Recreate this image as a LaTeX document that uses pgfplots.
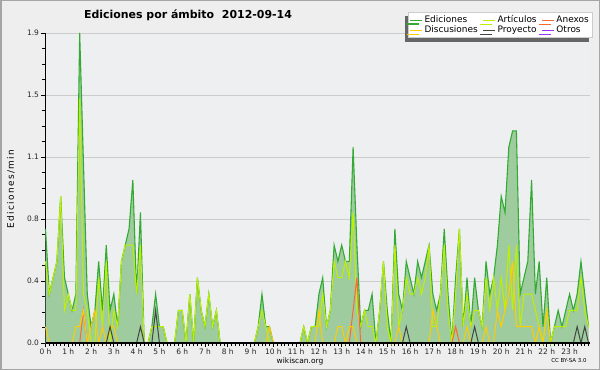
\documentclass[border=0pt]{standalone}
\usepackage{pgfplots}
\usepackage{pgfplotstable}
\pgfplotsset{compat=1.18}
\usepackage{fontspec}
\setmainfont{DejaVu Sans}
\usetikzlibrary{shadows}
\definecolor{bgcol}{RGB}{238,238,238}
\definecolor{plotbg}{RGB}{238,239,241}
\definecolor{bordercol}{RGB}{165,165,165}
\definecolor{fillgreen}{RGB}{158,204,158}
\definecolor{edgreen}{RGB}{51,170,51}
\definecolor{artgreen}{RGB}{190,240,0}
\definecolor{discol}{RGB}{255,204,0}
\definecolor{anexcol}{RGB}{255,102,51}
\definecolor{proycol}{RGB}{68,68,68}
\definecolor{otroscol}{RGB}{153,51,255}
\definecolor{gridcol}{RGB}{204,204,204}

\pgfplotstableread{
i E A D An P O
0 0.7 0.5 0.1 0 0 0
1 0.3 0.3 0 0 0 0
2 0.4 0.4 0 0 0 0
3 0.5 0.5 0 0 0 0
4 0.9 0.9 0 0 0 0
5 0.4 0.2 0 0 0 0
6 0.3 0.3 0 0 0 0
7 0.2 0.2 0 0 0 0
8 0.3 0.2 0.1 0 0 0
9 1.9 1.5 0.1 0 0 0
10 1.1 0.3 0.2 0.2 0 0
11 0.3 0.2 0 0 0 0
12 0.1 0 0.1 0 0 0
13 0.2 0 0.2 0 0 0
14 0.5 0.4 0 0 0 0
15 0.2 0.1 0.1 0 0 0
16 0.6 0.5 0 0 0 0
17 0.2 0 0.1 0 0.1 0
18 0.3 0.2 0.1 0 0 0
19 0.1 0.1 0 0 0 0
20 0.5 0.5 0 0 0 0
21 0.6 0.6 0 0 0 0
22 0.7 0.6 0 0 0 0
23 1.0 0.6 0 0 0 0
24 0.3 0.3 0 0 0 0
25 0.8 0.6 0 0 0.1 0
26 0 0 0 0 0 0
27 0 0 0 0 0 0
28 0.1 0.1 0 0 0 0
29 0.3 0.1 0 0 0.2 0
30 0.1 0.1 0 0 0 0
31 0.1 0.1 0 0 0 0
32 0 0 0 0 0 0
33 0 0 0 0 0 0
34 0 0 0 0 0 0
35 0.2 0.2 0 0 0 0
36 0.2 0.2 0 0 0 0
37 0 0 0 0 0 0
38 0.3 0.3 0 0 0 0
39 0 0 0 0 0 0
40 0.4 0.4 0 0 0 0
41 0.2 0.2 0 0 0 0
42 0.1 0.1 0 0 0 0
43 0.3 0.3 0 0 0 0
44 0.1 0.1 0 0 0 0
45 0.2 0.2 0 0 0 0
46 0 0 0 0 0 0
47 0 0 0 0 0 0
48 0 0 0 0 0 0
49 0 0 0 0 0 0
50 0 0 0 0 0 0
51 0 0 0 0 0 0
52 0 0 0 0 0 0
53 0 0 0 0 0 0
54 0 0 0 0 0 0
55 0 0 0 0 0 0
56 0.1 0.1 0 0 0 0
57 0.3 0.2 0 0 0 0
58 0.1 0.1 0 0 0 0
59 0.1 0 0.1 0 0 0
60 0 0 0 0 0 0
61 0 0 0 0 0 0
62 0 0 0 0 0 0
63 0 0 0 0 0 0
64 0 0 0 0 0 0
65 0 0 0 0 0 0
66 0 0 0 0 0 0
67 0 0 0 0 0 0
68 0.1 0.1 0 0 0 0
69 0 0 0 0 0 0
70 0.1 0.1 0 0 0 0
71 0.1 0.1 0 0 0 0
72 0.3 0.1 0.2 0 0 0
73 0.4 0.3 0 0 0 0
74 0.1 0.1 0 0 0 0
75 0.2 0.2 0 0 0 0
76 0.6 0.5 0 0 0 0
77 0.5 0.4 0.1 0 0 0
78 0.6 0.4 0.1 0 0 0
79 0.5 0.5 0 0 0 0
80 0.5 0.4 0.1 0 0 0
81 1.2 0.8 0.1 0.2 0 0
82 0.6 0.2 0 0.4 0 0
83 0.1 0.1 0 0 0 0
84 0.2 0.2 0 0 0 0
85 0.2 0.1 0 0 0 0
86 0.3 0.1 0 0 0 0
87 0 0 0 0 0 0
88 0.2 0.2 0 0 0 0
89 0.5 0.5 0 0 0 0
90 0.2 0.1 0 0 0 0
91 0 0 0 0 0 0
92 0.7 0.6 0 0 0 0
93 0.3 0.1 0.1 0 0 0
94 0.2 0.2 0 0 0 0
95 0.5 0.4 0 0 0.1 0
96 0.4 0.3 0 0 0 0
97 0.3 0.3 0 0 0 0
98 0.5 0.4 0 0 0 0
99 0.4 0.3 0 0 0 0
100 0.5 0.4 0 0 0 0
101 0.6 0.6 0 0 0 0
102 0.3 0.1 0.2 0 0 0
103 0.2 0.1 0.1 0 0 0
104 0.3 0.3 0 0 0 0
105 0.7 0.6 0 0 0 0
106 0.3 0.2 0 0 0 0
107 0 0 0 0 0 0
108 0.4 0.3 0 0.1 0 0
109 0.7 0.7 0 0 0 0
110 0.1 0.1 0 0 0 0
111 0.4 0.3 0.1 0 0 0
112 0.1 0.1 0 0 0 0
113 0.4 0.2 0 0 0.1 0
114 0.2 0.2 0 0 0 0
115 0.1 0.1 0 0 0 0
116 0.5 0.4 0.1 0 0 0
117 0.3 0.2 0 0 0 0
118 0.4 0.4 0 0 0 0
119 0.6 0.2 0.2 0 0 0
120 0.9 0.4 0.1 0 0 0
121 0.8 0.2 0.2 0 0 0
122 1.2 0.6 0.3 0 0 0
123 1.3 0.2 0.5 0 0 0
124 1.3 0.6 0.1 0 0 0
125 0.3 0.1 0.1 0 0 0
126 0.4 0.3 0.1 0 0 0
127 0.5 0.3 0.1 0 0 0
128 1.0 0.3 0.1 0 0 0
129 0.3 0.2 0 0 0 0
130 0.5 0.1 0.1 0 0 0
131 0.1 0 0 0 0 0
132 0.4 0.2 0.2 0 0 0
133 0 0 0 0 0 0
134 0.1 0.1 0 0 0 0
135 0.2 0.1 0 0 0 0
136 0.1 0.1 0 0 0 0
137 0.2 0.1 0 0 0 0
138 0.3 0.2 0 0 0 0
139 0.2 0.2 0 0 0 0
140 0.3 0.2 0 0 0.1 0
141 0.5 0.4 0 0 0 0
142 0.3 0.2 0 0 0.1 0
143 0.1 0.1 0 0 0 0
}\datatable

\begin{document}
\begin{tikzpicture}
\useasboundingbox (0,0) rectangle (600bp,370bp);
\fill[bgcol] (0,0) rectangle (600bp,370bp);
\draw[bordercol, line width=1.5bp] (0.75bp,0.75bp) rectangle (599.25bp,369.25bp);
\begin{axis}[
  at={(45.5bp,27bp)}, anchor=south west,
  scale only axis, width=544bp, height=310bp,
  xmin=0, xmax=143.25, ymin=0, ymax=1.9,
  clip=false,
  axis background/.style={fill=plotbg},
  axis x line*=bottom, axis y line*=left,
  axis line style={-, black, line width=1.2bp},
  xtick={0,6,...,138},
  xticklabels={0 h,1 h,2 h,3 h,4 h,5 h,6 h,7 h,8 h,9 h,10 h,11 h,12 h,13 h,14 h,15 h,16 h,17 h,18 h,19 h,20 h,21 h,22 h,23 h},
  minor xtick={0,1,...,143},
  ytick={0,0.38,0.76,1.14,1.52,1.9},
  yticklabels={0.0,0.4,0.8,1.1,1.5,1.9},
  minor y tick num=3,
  tick align=outside,
  major tick length=4bp, minor tick length=3bp,
  tick style={black, line width=0.8bp},
  ymajorgrids, major grid style={gridcol, line width=0.8bp},
  /pgf/number format/assume math mode=true,
  tick label style={font=\fontsize{7.5}{8}\selectfont, text=black!85},
  xticklabel style={yshift=1.5bp},
  yticklabel style={xshift=1bp},
  legend columns=3,
  legend cell align=left,
  legend image code/.code={\draw[#1, line width=0.8bp] (0bp,0bp) -- (12bp,0bp);},
  legend style={at={(1.0055,1.0677)}, anchor=north east,
    font=\fontsize{9}{9}\selectfont, draw=gray!40, fill=white,
    inner sep=1.5bp, row sep=-2.5bp,
    /tikz/every even column/.append style={column sep=3bp},
    drop shadow={shadow xshift=-3bp, shadow yshift=-4bp, fill=black!60, opacity=1}},
]
\addplot[fill=fillgreen, draw=none, forget plot] table[x=i, y=E] {\datatable} \closedcycle;
\addplot[edgreen, line width=1.1bp] table[x=i, y=E] {\datatable};
\addplot[artgreen, line width=1.0bp] table[x=i, y=A] {\datatable};
\addplot[anexcol, line width=1.0bp] table[x=i, y=An] {\datatable};
\addplot[discol, line width=1.0bp] table[x=i, y=D] {\datatable};
\addplot[proycol, line width=1.0bp] table[x=i, y=P] {\datatable};
\addplot[otroscol, line width=1.0bp] table[x=i, y=O] {\datatable};
\legend{Ediciones, Artículos, Anexos, Discusiones, Proyecto, Otros}
\draw[black, line width=1.2bp] (rel axis cs:0,0) -- (rel axis cs:1,0);
\end{axis}
\node[font=\bfseries\fontsize{11}{13}\selectfont, anchor=base] at (188bp,351bp) {Ediciones por ámbito\ \ 2012-09-14};
\node[font=\fontsize{9}{9}\selectfont\addfontfeature{LetterSpace=15}, rotate=90] at (11bp,181bp) {Ediciones/min};
\node[font=\fontsize{7.5}{8}\selectfont] at (300bp,9bp) {wikiscan.org};
\node[font=\fontsize{5.5}{6}\selectfont] at (569bp,9bp) {CC BY-SA 3.0};
\end{tikzpicture}
\end{document}
